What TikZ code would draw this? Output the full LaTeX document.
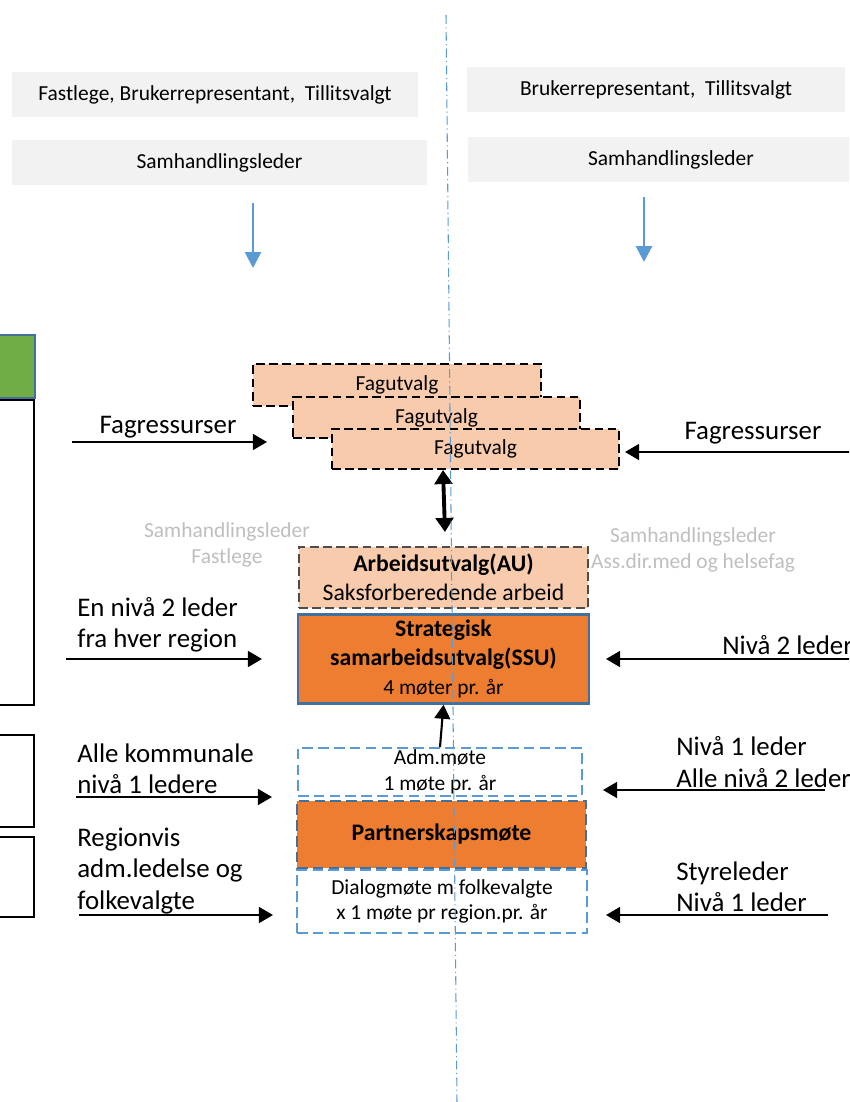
\documentclass[tikz,border=0pt]{standalone}
\usepackage{fontspec}
\setmainfont{Carlito}
\usetikzlibrary{arrows.meta}
\usetikzlibrary{calc}
\usetikzlibrary{positioning}

\definecolor{boxgray}{HTML}{F2F2F2}
\definecolor{peach}{HTML}{F8CBAD}
\definecolor{orangebox}{HTML}{ED7D31}
\definecolor{lineblue}{HTML}{5B9BD5}
\definecolor{edgeblue}{HTML}{41719C}
\definecolor{greenbox}{HTML}{70AD47}
\definecolor{softgray}{HTML}{BFBFBF}

\newcommand{\smalltxt}{\fontsize{12.2}{14.6}\selectfont}
\newcommand{\midtxt}{\fontsize{13.5}{16.4}\selectfont}
\newcommand{\bigtxt}{\fontsize{15.3}{17.8}\selectfont}

\begin{document}
\begin{tikzpicture}[
    x=0.02cm, y=-0.02cm,
    arrowtip/.style={
      -{Triangle[width=9pt,length=8pt]}, line width=1.2pt
    },
    bluetip/.style={
      -{Triangle[width=9pt,length=9pt]}, line width=1.6pt, draw=lineblue
    },
    topbox/.style={fill=boxgray, inner sep=0pt, font=\smalltxt},
    fagbox/.style={fill=peach, draw=black, line width=0.8pt,
      dash pattern=on 5pt off 2.5pt, inner sep=0pt, font=\smalltxt},
    sidebox/.style={fill=white, draw=black, line width=1pt, inner sep=0pt},
    meetbox/.style={draw=lineblue, line width=1.1pt,
      dash pattern=on 6pt off 3pt, inner sep=0pt, align=center, font=\smalltxt},
    sidetxt/.style={align=left, anchor=west, inner sep=0pt, font=\bigtxt},
    graytxt/.style={align=center, inner sep=0pt, text=softgray, font=\smalltxt}
  ]
    \clip (0,0) rectangle (849,1102);
    \fill[white] (0,0) rectangle (849,1102);

    % top boxes
    \node[topbox, minimum width=8.12cm, minimum height=0.9cm] (TL) at (215,94.5)
      {Fastlege, Brukerrepresentant,~ Tillitsvalgt};
    \node[topbox, minimum width=7.56cm, minimum height=0.9cm] (TR) at (656,89.5)
      {Brukerrepresentant,~ Tillitsvalgt};
    \node[topbox, minimum width=8.3cm, minimum height=0.9cm] (SL) at (219.5,162.5)
      {Samhandlingsleder};
    \node[topbox, minimum width=8.12cm, minimum height=0.9cm] (SR) at (671,159.5)
      {Samhandlingsleder};

    \coordinate (BLA) at (253,203);
    \coordinate (BLB) at (253,268);
    \coordinate (BRA) at (644,197);
    \coordinate (BRB) at (644,262);
    \draw[bluetip] (BLA) -- (BLB);
    \draw[bluetip] (BRA) -- (BRB);

    % left column
    \node[fill=greenbox, draw=edgeblue, line width=1pt, inner sep=0pt,
      minimum width=0.9cm, minimum height=1.26cm] (GR) at (12.5,366.5) {};
    \node[sidebox, minimum width=0.88cm, minimum height=6.1cm] (WA) at (12,552.5) {};
    \node[sidebox, minimum width=0.88cm, minimum height=1.84cm] (WB) at (12,781) {};
    \node[sidebox, minimum width=0.88cm, minimum height=1.6cm] (WC) at (12,877) {};

    % fagutvalg
    \node[fagbox, minimum width=5.76cm, minimum height=0.84cm] (FU1) at (397,385)
      {\raisebox{-3pt}{Fagutvalg}};
    \node[fagbox, minimum width=5.74cm, minimum height=0.82cm] (FU2) at (436.5,417.5)
      {\raisebox{-2pt}{Fagutvalg}};
    \node[fagbox, minimum width=5.74cm, minimum height=0.8cm] (FU3) at (475.5,449)
      {\raisebox{-1pt}{Fagutvalg}};

    % middle column
    \node[fagbox, draw=black!70, minimum width=5.78cm, minimum height=1.22cm,
      align=center, font=\midtxt] (AU) at (443.5,577.5)
      {\textbf{Arbeidsutvalg(AU)}\\Saksforberedende arbeid};
    \node[fill=orangebox, draw=edgeblue, line width=1.4pt, inner sep=0pt,
      minimum width=5.82cm, minimum height=1.78cm, align=center,
      font=\midtxt\bfseries] (SSU) at (443.5,659)
      {Strategisk\\samarbeidsutvalg(SSU)\\\smalltxt\mdseries 4 møter pr. år};
    \node[meetbox, minimum width=5.68cm, minimum height=0.96cm] (ADM) at (440,772)
      {Adm.møte\\1 møte pr. år};
    \node[meetbox, fill=orangebox, draw=edgeblue, minimum width=5.78cm,
      minimum height=1.34cm, font=\midtxt\bfseries] (PM) at (441.5,834.5)
      {Partnerskapsmøte};
    \node[meetbox, minimum width=5.8cm, minimum height=1.26cm] (DM) at (442,901.5)
      {Dialogmøte m folkevalgte\\x 1 møte pr region.pr. år};

    \coordinate (UA) at (443,470);
    \coordinate (UB) at (445,532);
    \draw[{Triangle[width=10pt,length=8pt]}-{Triangle[width=10pt,length=8pt]},
      line width=2.2pt] (UA) -- (UB);
    \draw[arrowtip] (ADM.north) -- (SSU.south);

    % side labels
    \node[font=\bigtxt, inner sep=0pt] (FAL) at (168,427) {Fagressurser};
    \node[font=\bigtxt, inner sep=0pt] (FAR) at (753,433) {Fagressurser};
    \node[graytxt] (GL) at (227,545) {Samhandlingsleder\\Fastlege};
    \node[graytxt] (GRT) at (693,550) {Samhandlingsleder\\Ass.dir.med og helsefag};

    \node[sidetxt] (ENL) at (77,625) {En nivå 2 leder\\fra hver region};
    \node[sidetxt] (ALL) at (77,769) {Alle kommunale\\nivå 1 ledere};
    \node[sidetxt] (REG) at (77,871) {Regionvis\\adm.ledelse og\\folkevalgte};
    \node[sidetxt] (N2R) at (722,645) {Nivå 2 leder};
    \node[sidetxt] (N1R) at (676,762) {Nivå 1 leder\\Alle nivå 2 leder};
    \node[sidetxt] (STY) at (676,887) {Styreleder\\Nivå 1 leder};

    \coordinate (LA1) at (72,442);   \coordinate (LB1) at (267,442);
    \coordinate (LA2) at (66,659);   \coordinate (LB2) at (262,659);
    \coordinate (LA3) at (76,797);   \coordinate (LB3) at (272,797);
    \coordinate (LA4) at (79,915);   \coordinate (LB4) at (273,915);
    \coordinate (RA1) at (855,452);  \coordinate (RB1) at (625,452);
    \coordinate (RA2) at (855,659);  \coordinate (RB2) at (606,659);
    \coordinate (RA3) at (825,790);  \coordinate (RB3) at (603,790);
    \coordinate (RA4) at (828,915);  \coordinate (RB4) at (606,915);

    \foreach \a/\b in {LA1/LB1,LA2/LB2,LA3/LB3,LA4/LB4,RA1/RB1,RA2/RB2,RA3/RB3,RA4/RB4}
      \draw[arrowtip] (\a) -- (\b);

    % centre line
    \coordinate (CT) at (446,15);
    \coordinate (CB) at (457,1102);
    \draw[lineblue, line width=0.6pt, dash pattern=on 5pt off 2pt on 0.6pt off 2pt]
      (CT) -- (CB);
  \end{tikzpicture}
\end{document}
